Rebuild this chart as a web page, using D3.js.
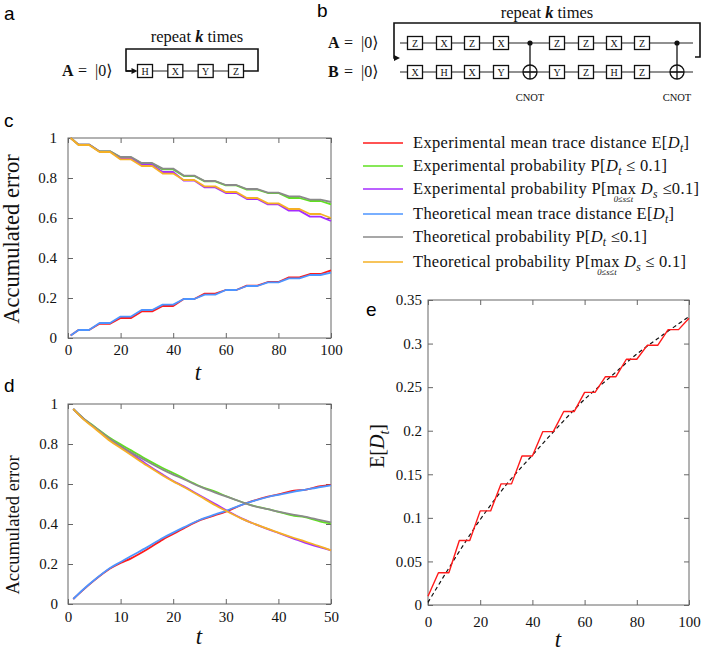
<!DOCTYPE html>
<html><head><meta charset="utf-8">
<script src="https://cdn.jsdelivr.net/npm/d3@7"></script>
<style>
body{margin:0;background:#fff}
svg{display:block}
text{font-family:"Liberation Serif","DejaVu Serif",serif;fill:#111}
</style>
</head><body>
<svg id="fig" width="706" height="651"></svg>
<script>
// ---------------- DATA ----------------
// panel c (step-like, t = 1..100)
const tC = [1,4,8,12,16,20,24,28,32,36,40,44,48,52,56,60,64,68,72,76,80,84,88,92,96,100];
const cExpMean  = [0.012,0.040,0.040,0.071,0.071,0.100,0.100,0.133,0.133,0.160,0.160,0.195,0.195,0.222,0.222,0.240,0.240,0.262,0.262,0.280,0.280,0.303,0.303,0.320,0.320,0.338];
const cExpP     = [1.000,0.967,0.967,0.933,0.933,0.902,0.902,0.872,0.872,0.843,0.843,0.810,0.810,0.783,0.783,0.763,0.763,0.742,0.742,0.725,0.725,0.700,0.700,0.685,0.685,0.668];
const cExpPmax  = [1.000,0.967,0.967,0.932,0.932,0.898,0.898,0.865,0.865,0.830,0.830,0.787,0.787,0.753,0.753,0.725,0.725,0.695,0.695,0.668,0.668,0.637,0.637,0.607,0.607,0.585];
const cThMean   = [0.012,0.040,0.040,0.075,0.075,0.107,0.107,0.140,0.140,0.167,0.167,0.195,0.195,0.217,0.217,0.240,0.240,0.260,0.260,0.278,0.278,0.298,0.298,0.315,0.315,0.327];
const cThP      = [1.000,0.967,0.967,0.933,0.933,0.905,0.905,0.875,0.875,0.847,0.847,0.812,0.812,0.785,0.785,0.765,0.765,0.745,0.745,0.727,0.727,0.708,0.708,0.692,0.692,0.680];
const cThPmax   = [1.000,0.965,0.965,0.930,0.930,0.893,0.893,0.860,0.860,0.822,0.822,0.790,0.790,0.758,0.758,0.730,0.730,0.700,0.700,0.673,0.673,0.645,0.645,0.620,0.620,0.600];

// panel d (smooth, t = 1..50)
const tD = [1,3,5,8,10,12,15,18,20,22,25,28,30,33,35,38,40,43,45,48,50];
const dExpMean  = [0.025,0.073,0.118,0.177,0.205,0.228,0.272,0.322,0.350,0.378,0.418,0.444,0.462,0.495,0.514,0.537,0.548,0.567,0.571,0.589,0.596];
const dExpP     = [0.975,0.927,0.888,0.830,0.798,0.768,0.722,0.680,0.655,0.628,0.590,0.562,0.540,0.510,0.493,0.474,0.461,0.441,0.434,0.412,0.403];
const dExpPmax  = [0.975,0.925,0.884,0.820,0.786,0.752,0.698,0.647,0.615,0.588,0.544,0.500,0.470,0.428,0.405,0.374,0.355,0.326,0.307,0.283,0.268];
const dThMean   = [0.025,0.075,0.120,0.180,0.210,0.240,0.283,0.330,0.357,0.383,0.420,0.448,0.466,0.496,0.513,0.535,0.546,0.562,0.571,0.585,0.593];
const dThP      = [0.975,0.925,0.885,0.825,0.790,0.758,0.714,0.672,0.647,0.624,0.588,0.557,0.538,0.510,0.492,0.474,0.462,0.446,0.437,0.419,0.408];
const dThPmax   = [0.975,0.922,0.880,0.815,0.780,0.745,0.692,0.643,0.613,0.585,0.540,0.494,0.466,0.427,0.405,0.376,0.357,0.330,0.313,0.287,0.268];

// panel e
const tE = [0,4,8,12,16,20,24,28,32,36,40,44,48,52,56,60,64,68,72,76,80,84,88,92,96,100];
const eMean = [0.010,0.037,0.037,0.074,0.074,0.108,0.108,0.139,0.139,0.171,0.171,0.199,0.199,0.222,0.222,0.244,0.244,0.262,0.262,0.282,0.282,0.298,0.298,0.316,0.316,0.329];
const tEfit = [0,10,20,30,40,50,60,70,80,90,100];
const eFit  = [0.003,0.052,0.098,0.138,0.172,0.205,0.236,0.262,0.288,0.310,0.331];

// ticks
const xTicksC = [0,20,40,60,80,100];
const xTicksD = [0,10,20,30,40,50];
const xTicksE = [0,20,40,60,80,100];
const yTicksCD = [0,0.2,0.4,0.6,0.8,1];
const yTicksE = [0,0.05,0.1,0.15,0.2,0.25,0.3,0.35];

// series & legend
const seriesColors = ['#ff1a1a','#5fe020','#a52cff','#4d94ff','#8a8a8a','#f5b025'];
const legendLabels = [
  'Experimental mean trace distance E[D_t]',
  'Experimental probability P[D_t ≤ 0.1]',
  'Experimental probability P[max_{0≤s≤t} D_s ≤0.1]',
  'Theoretical mean trace distance E[D_t]',
  'Theoretical probability P[D_t ≤0.1]',
  'Theoretical probability P[max_{0≤s≤t} D_s ≤ 0.1]'
];
const seriesC = [cExpMean,cExpP,cExpPmax,cThMean,cThP,cThPmax];
const seriesD = [dExpMean,dExpP,dExpPmax,dThMean,dThP,dThPmax];

// circuits
const gatesA = ['H','X','Y','Z'];
const gatesBtop = ['Z','X','Z','X','C','Z','Z','X','Z','C'];
const gatesBbot = ['X','H','X','Y','T','Y','Z','H','Z','T'];

// ---------------- DRAW ----------------
const svg = d3.select('#fig');

function rich(sel, x, y, str, size, anchor, fitWidth) {
  const t = sel.append('text').attr('x', x).attr('y', y).style('font-size', size + 'px');
  if (anchor) t.attr('text-anchor', anchor);
  const parts = str.split(/(max_\{[^}]*\}|D_[a-z])/).filter(s => s.length);
  let idx = 0, pending = 0;
  const unders = [];
  const subDy = size * 0.25;
  parts.forEach(p => {
    let m;
    if ((m = p.match(/^D_([a-z])$/))) {
      t.append('tspan').text('D').style('font-style', 'italic').attr('dy', pending ? -pending : null);
      t.append('tspan').text(m[1]).style('font-style', 'italic').style('font-size', (size * 0.7) + 'px').attr('dy', subDy);
      pending = subDy; idx += 2;
    } else if ((m = p.match(/^max_\{(.*)\}$/))) {
      t.append('tspan').text('max').attr('dy', pending ? -pending : null);
      pending = 0;
      unders.push({ idx: idx, sub: m[1] });
      idx += 3;
    } else {
      t.append('tspan').text(p).attr('dy', pending ? -pending : null);
      pending = 0; idx += p.length;
    }
  });
  if (fitWidth) {
    const len = t.node().getComputedTextLength();
    if (len < fitWidth) t.attr('textLength', fitWidth).attr('lengthAdjust', 'spacing');
  }
  unders.forEach(u => {
    const n = t.node();
    const x0 = n.getStartPositionOfChar(u.idx).x;
    const x1 = n.getEndPositionOfChar(u.idx + 2).x;
    sel.append('text').attr('x', (x0 + x1) / 2 + 2).attr('y', y + size * 0.5)
      .attr('text-anchor', 'middle').style('font-size', '8.6px').style('font-style', 'italic').text(u.sub);
  });
  return t;
}

function panel(box, xDom, yDom, xTicks, yTicks, padX, padY) {
  const x = d3.scaleLinear().domain(xDom).range([box.l, box.r]);
  const y = d3.scaleLinear().domain(yDom).range([box.b, box.t]);
  const g = svg.append('g');
  const yFmt = d => String(+d.toFixed(2));
  g.append('g').attr('transform', `translate(0,${box.b})`)
    .call(d3.axisBottom(x).tickValues(xTicks).tickSize(-5).tickSizeOuter(0).tickPadding(padX).tickFormat(d3.format('d')));
  g.append('g').attr('transform', `translate(0,${box.t})`)
    .call(d3.axisTop(x).tickValues(xTicks).tickSize(-5).tickSizeOuter(0).tickFormat(''));
  g.append('g').attr('transform', `translate(${box.l},0)`)
    .call(d3.axisLeft(y).tickValues(yTicks).tickSize(-5).tickSizeOuter(0).tickPadding(padY).tickFormat(yFmt));
  g.append('g').attr('transform', `translate(${box.r},0)`)
    .call(d3.axisRight(y).tickValues(yTicks).tickSize(-5).tickSizeOuter(0).tickFormat(''));
  g.selectAll('.domain').remove();
  g.selectAll('.tick line').attr('stroke', '#666');
  g.selectAll('.tick text').style('font-size', '15px').style('fill', '#111');
  g.append('rect').attr('x', box.l).attr('y', box.t).attr('width', box.r - box.l).attr('height', box.b - box.t)
    .attr('fill', 'none').attr('stroke', '#666').attr('stroke-width', 1);
  const lines = g.append('g');
  return { x, y, g: lines };
}

function drawLine(p, ts, vs, color, width, curve, dash) {
  const line = d3.line().x((d, i) => p.x(ts[i])).y(d => p.y(d)).curve(curve || d3.curveLinear);
  const path = p.g.append('path').datum(vs).attr('d', line).attr('fill', 'none')
    .attr('stroke', color).attr('stroke-width', width).attr('stroke-linejoin', 'round');
  if (dash) path.attr('stroke-dasharray', dash);
}

// panel c
const C = { l: 68, r: 331, t: 138, b: 338 };
const pc = panel(C, [0, 100], [0, 1], xTicksC, yTicksCD, 6, 11);
seriesC.forEach((s, i) => drawLine(pc, tC, s, seriesColors[i], 1.8));

// panel d
const D = { l: 68, r: 331, t: 404, b: 604 };
const pd = panel(D, [0, 50], [0, 1], xTicksD, yTicksCD, 7, 10);
seriesD.forEach((s, i) => drawLine(pd, tD, s, seriesColors[i], 1.8, d3.curveCatmullRom));

// panel e
const E = { l: 428, r: 689, t: 300, b: 605 };
const pe = panel(E, [0, 100], [0, 0.35], xTicksE, yTicksE, 11, 6);
drawLine(pe, tEfit, eFit, '#111', 1.2, d3.curveCatmullRom, '4,3');
drawLine(pe, tE, eMean, '#ff1a1a', 1.4);

// axis titles
svg.append('text').attr('transform', 'translate(19,239) rotate(-90)').attr('text-anchor', 'middle')
  .style('font-size', '22.5px').text('Accumulated error');
svg.append('text').attr('transform', 'translate(19,525) rotate(-90)').attr('text-anchor', 'middle')
  .style('font-size', '18.5px').text('Accumulated error');
const ey = svg.append('g').attr('transform', 'translate(384,446) rotate(-90)');
rich(ey, 0, 0, 'E[D_t]', 20, 'middle');
[[198, 380], [199, 644], [558, 647]].forEach(([x, y]) => {
  svg.append('text').attr('x', x).attr('y', y).attr('text-anchor', 'middle')
    .style('font-size', '23px').style('font-style', 'italic').text('t');
});

// legend
const legY = [143, 166, 189, 214, 237, 262];
const legW = [276, 254, 286, 261, 234, 273];   // text widths (layout)
const legG = svg.append('g');
legendLabels.forEach((lab, i) => {
  legG.append('line').attr('x1', 363).attr('x2', 403).attr('y1', legY[i]).attr('y2', legY[i])
    .attr('stroke', seriesColors[i]).attr('stroke-width', 1.6);
  rich(legG, 413, legY[i] + 5, lab, 16.5, null, legW[i]);
});

// panel letters
[['a', 4, 20], ['b', 317, 17], ['c', 4, 127], ['d', 4, 392], ['e', 366, 316]].forEach(([s, x, y]) => {
  svg.append('text').attr('x', x).attr('y', y).style('font-family', '"Liberation Sans",Arial,sans-serif')
    .style('font-size', '19px').style('fill', '#000').text(s);
});

// ---- circuits ----
const cg = svg.append('g').attr('stroke-linecap', 'butt');
function ket(g, x, y, letter) {
  g.append('text').attr('x', x).attr('y', y).style('font-size', '16px').style('font-weight', 'bold').text(letter);
  g.append('text').attr('x', x + 16).attr('y', y).style('font-size', '16px').text('=');
  g.append('text').attr('x', x + 33).attr('y', y).style('font-size', '16px').text('|0⟩');
}
function repeatLabel(g, x, y) {
  const t = g.append('text').attr('x', x).attr('y', y).attr('text-anchor', 'middle').style('font-size', '16.5px');
  t.append('tspan').text('repeat ');
  t.append('tspan').text('k').style('font-style', 'italic').style('font-weight', 'bold');
  t.append('tspan').text(' times');
}
function gateBox(g, cx, cy, lab) {
  g.append('rect').attr('x', cx - 7.5).attr('y', cy - 6.5).attr('width', 15).attr('height', 13)
    .attr('fill', '#fff').attr('stroke', '#111').attr('stroke-width', 1.3);
  g.append('text').attr('x', cx).attr('y', cy + 3.5).attr('text-anchor', 'middle').style('font-size', '10px').text(lab);
}
const arrowHead = (g, x, y) => g.append('path').attr('d', `M${x},${y} l-6,-3 l0,6 z`).attr('fill', '#111');

// circuit a
const ga = cg.append('g');
ket(ga, 62, 76, 'A');
repeatLabel(ga, 197, 42);
const wA = 71;
const xA = d3.scalePoint().domain(d3.range(gatesA.length)).range([145, 236]);
ga.append('path').attr('d', `M131,${wA} L126,${wA} L126,49 L258,49 L258,${wA} L${xA(3) + 7.5},${wA}`)
  .attr('fill', 'none').attr('stroke', '#111').attr('stroke-width', 1.6);
ga.append('line').attr('x1', 126).attr('x2', 133).attr('y1', wA).attr('y2', wA).attr('stroke', '#111').attr('stroke-width', 1.6);
arrowHead(ga, 137.5, wA);
ga.append('line').attr('x1', xA(0)).attr('x2', xA(3)).attr('y1', wA).attr('y2', wA).attr('stroke', '#222').attr('stroke-width', 1.1);
gatesA.forEach((s, i) => gateBox(ga, xA(i), wA, s));

// circuit b
const gb = cg.append('g');
ket(gb, 328, 48, 'A');
ket(gb, 328, 77, 'B');
repeatLabel(gb, 547, 18);
const wTop = 43, wBot = 72;
const colX = [415, 444, 472, 501, 530, 557, 586, 614, 642, 677];
gb.append('path').attr('d', `M398,58 L394,58 L394,23 L700,23 L700,57 L695,57`)
  .attr('fill', 'none').attr('stroke', '#111').attr('stroke-width', 1.6);
arrowHead(gb, 400, 58);
[wTop, wBot].forEach(w => gb.append('line').attr('x1', 400).attr('x2', 693).attr('y1', w).attr('y2', w)
  .attr('stroke', '#222').attr('stroke-width', 1.1));
gatesBtop.forEach((s, i) => {
  const cx = colX[i];
  if (s === 'C') {
    gb.append('line').attr('x1', cx).attr('x2', cx).attr('y1', wTop).attr('y2', wBot + 7).attr('stroke', '#111').attr('stroke-width', 1.3);
    gb.append('circle').attr('cx', cx).attr('cy', wTop).attr('r', 2.6).attr('fill', '#111');
  } else gateBox(gb, cx, wTop, s);
});
gatesBbot.forEach((s, i) => {
  const cx = colX[i];
  if (s === 'T') {
    gb.append('circle').attr('cx', cx).attr('cy', wBot).attr('r', 7).attr('fill', 'none').attr('stroke', '#111').attr('stroke-width', 1.3);
    gb.append('line').attr('x1', cx - 7).attr('x2', cx + 7).attr('y1', wBot).attr('y2', wBot).attr('stroke', '#111').attr('stroke-width', 1.3);
    gb.append('text').attr('x', cx).attr('y', 101).attr('text-anchor', 'middle').style('font-size', '10.5px').text('CNOT');
  } else gateBox(gb, cx, wBot, s);
});
</script>
</body></html>
